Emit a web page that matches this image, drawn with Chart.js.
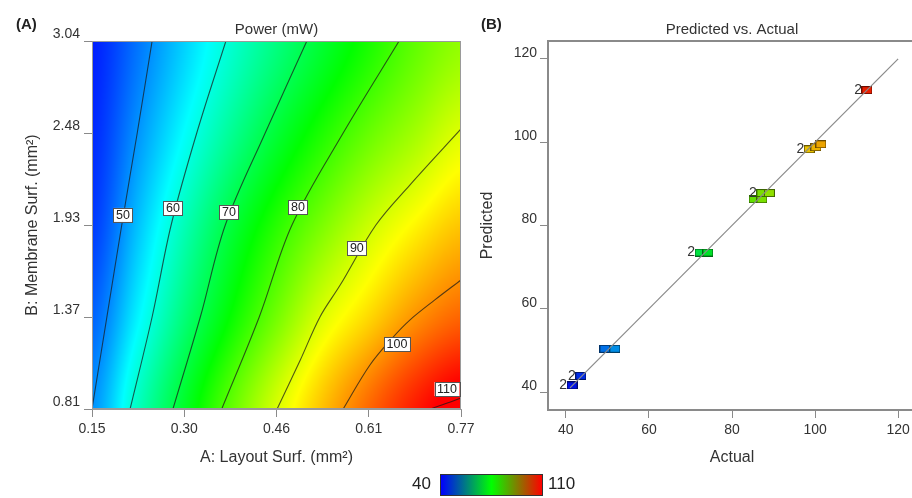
<!DOCTYPE html>
<html>
<head>
<meta charset="utf-8">
<script src="https://cdn.jsdelivr.net/npm/chart.js@4.4.1/dist/chart.umd.min.js"></script>
<style>
html,body{margin:0;padding:0;background:#fff;}
body{width:912px;height:498px;overflow:hidden;position:relative;font-family:"Liberation Sans",Arial,sans-serif;}
.panel{position:absolute;top:16px;font-weight:bold;font-size:15px;line-height:16px;color:#222;}
#cA{position:absolute;left:0;top:0;}
#cB{position:absolute;left:470px;top:0;}
#cbar{position:absolute;left:440px;top:474px;width:101px;height:20px;border:1px solid #333;background:linear-gradient(to right,#0000ff,#00ff00,#ff0000);}
.cblab{position:absolute;top:474px;font-size:17px;line-height:20px;color:#222;}
</style>
</head>
<body>
<canvas id="cA" width="480" height="498"></canvas>
<canvas id="cB" width="460" height="498"></canvas>
<div class="panel" style="left:16px">(A)</div>
<div class="panel" style="left:481px">(B)</div>
<div class="cblab" style="left:412px">40</div>
<div id="cbar"></div>
<div class="cblab" style="left:548px">110</div>
<script>
// ====== DATA : panel A (response surface) ======
const A_TICKS = [0.15, 0.305, 0.46, 0.615, 0.77];
const A_TICK_LABELS = ['0.15','0.30','0.46','0.61','0.77'];
const B_TICKS = [0.81, 1.3675, 1.925, 2.4825, 3.04];
const B_TICK_LABELS = ['0.81','1.37','1.93','2.48','3.04'];

// power at grid nodes (columns = A, rows = B)
const GRID_A = [0.15, 0.2275, 0.305, 0.3825, 0.46, 0.5375, 0.615, 0.6925, 0.77];
const GRID_B = [0.81, 1.3675, 1.925, 2.4825, 3.04];
const POWER_B081 = [50.0, 61.9, 72.2, 81.5, 89.8, 96.8, 102.9, 108.2, 112.0];
const POWER_B137 = [46.7, 56.9, 66.7, 75.2, 82.9, 90.2, 95.1, 99.9, 103.1];
const POWER_B193 = [43.9, 53.3, 62.4, 70.7, 77.6, 83.5, 88.8, 93.0, 96.4];
const POWER_B248 = [42.7, 50.2, 57.6, 64.7, 71.3, 77.0, 82.0, 86.1, 90.2];
const POWER_B304 = [42.0, 48.0, 54.3, 60.5, 66.2, 71.6, 76.6, 81.5, 85.0];
const POWER_ROWS = [POWER_B081, POWER_B137, POWER_B193, POWER_B248, POWER_B304];

// contour lines
const LEVELS = [50, 60, 70, 80, 90, 100, 110];
const C50_A = [0.150, 0.175, 0.200, 0.226, 0.251];
const C50_B = [0.81, 1.3675, 1.925, 2.4825, 3.04];
const C60_A = [0.214, 0.251, 0.283, 0.326, 0.375];
const C60_B = [0.81, 1.3675, 1.925, 2.4825, 3.04];
const C70_A = [0.286, 0.332, 0.374, 0.441, 0.511];
const C70_B = [0.81, 1.3675, 1.925, 2.4825, 3.04];
const C80_A = [0.368, 0.431, 0.486, 0.572, 0.666];
const C80_B = [0.81, 1.3675, 1.925, 2.4825, 3.04];
const C90_A = [0.461, 0.500, 0.533, 0.567, 0.627, 0.684, 0.770];
const C90_B = [0.81, 1.107, 1.368, 1.561, 1.925, 2.167, 2.507];
const C100_A = [0.572, 0.617, 0.656, 0.684, 0.726, 0.770];
const C100_B = [0.81, 1.077, 1.246, 1.349, 1.471, 1.592];
const C110_A = [0.718, 0.747, 0.770];
const C110_B = [0.81, 0.846, 0.877];
const CONTOURS_A = [C50_A, C60_A, C70_A, C80_A, C90_A, C100_A, C110_A];
const CONTOURS_B = [C50_B, C60_B, C70_B, C80_B, C90_B, C100_B, C110_B];
const LABEL_A = [0.202, 0.286, 0.380, 0.496, 0.595, 0.6625, 0.7465];
const LABEL_B = [1.986, 2.028, 2.004, 2.034, 1.786, 1.201, 0.931];

// ====== DATA : panel B (predicted vs actual) ======
const ACTUAL    = [112.5, 98.6, 100.2, 101.4, 85.3, 87.2, 87.2, 89.0, 72.3, 74.2, 49.4, 51.8, 43.6, 41.5];
const PREDICTED = [112.5, 98.3,  98.8,  99.5, 86.3, 86.3, 87.8, 87.8, 73.5, 73.5, 50.4, 50.4, 43.9, 41.6];
const RUNS      = [2, 2, 1, 1, 1, 1, 2, 1, 2, 1, 1, 1, 2, 2];
const PV_TICKS = [40, 60, 80, 100, 120];
const FIT_LINE = [41, 120];

// ====== UTILS ======
const FONT = '"Liberation Sans", Arial, sans-serif';
const JET = [[0,0,255],[0,255,255],[0,255,0],[255,255,0],[255,0,0]];
function jet(v, lo, hi){
  let t = (v-lo)/(hi-lo); t = Math.max(0, Math.min(1, t))*4;
  const i = Math.min(3, Math.floor(t)), f = t-i, a = JET[i], b = JET[i+1];
  return [a[0]+(b[0]-a[0])*f, a[1]+(b[1]-a[1])*f, a[2]+(b[2]-a[2])*f];
}
function cr(p0,p1,p2,p3,t){ return 0.5*((2*p1)+(-p0+p2)*t+(2*p0-5*p1+4*p2-p3)*t*t+(-p0+3*p1-3*p2+p3)*t*t*t); }
function sampleRow(row, u){
  const n=row.length; let i=Math.floor(u); if(i<0) i=0; if(i>n-2) i=n-2;
  const t=u-i, g=k=>row[Math.max(0,Math.min(n-1,k))];
  return cr(g(i-1),g(i),g(i+1),g(i+2),t);
}
function fieldAt(a, b){
  const u=(a-GRID_A[0])/(GRID_A[1]-GRID_A[0]);
  const w=(b-GRID_B[0])/(GRID_B[1]-GRID_B[0]);
  return sampleRow(POWER_ROWS.map(r=>sampleRow(r,u)), w);
}
const rectCache = {};
function rectImg(color){
  if(rectCache[color]) return rectCache[color];
  const c=document.createElement('canvas'); c.width=11; c.height=8;
  const g=c.getContext('2d'); g.fillStyle=color; g.fillRect(0,0,11,8);
  g.strokeStyle='rgba(0,0,0,0.55)'; g.lineWidth=1; g.strokeRect(0.5,0.5,10,7);
  return rectCache[color]=c;
}
function pointColor(v){ const c=jet(v,40,115); return `rgb(${Math.round(c[0]*0.92)},${Math.round(c[1]*0.88)},${Math.round(c[2]*0.9)})`; }

// ====== PLUGINS ======
const heatPlugin = {
  id:'heat',
  beforeDatasetsDraw(chart){
    const {ctx, chartArea:ca, scales:{x,y}} = chart;
    const L=Math.round(ca.left), T=Math.round(ca.top);
    const w=Math.round(ca.right)-L, h=Math.round(ca.bottom)-T;
    const img=ctx.createImageData(w,h);
    for(let j=0;j<h;j++){
      const b=y.getValueForPixel(T+j+0.5);
      for(let i=0;i<w;i++){
        const c=jet(fieldAt(x.getValueForPixel(L+i+0.5), b), 40, 110);
        const k=(j*w+i)*4;
        img.data[k]=c[0]; img.data[k+1]=c[1]; img.data[k+2]=c[2]; img.data[k+3]=255;
      }
    }
    ctx.putImageData(img, L, T);
  }
};
const frameA = {
  id:'frameA',
  afterDatasetsDraw(chart){
    const {ctx, chartArea:ca} = chart;
    ctx.save(); ctx.strokeStyle='#9a9a9a'; ctx.lineWidth=1;
    ctx.strokeRect(Math.round(ca.left)+0.5, Math.round(ca.top)+0.5, Math.round(ca.right-ca.left)-1, Math.round(ca.bottom-ca.top)-1);
    ctx.restore();
  }
};
const contourLabels = {
  id:'contourLabels',
  afterDraw(chart){
    const {ctx, scales:{x,y}} = chart;
    ctx.save(); ctx.font='12.5px '+FONT; ctx.textAlign='center'; ctx.textBaseline='middle';
    LEVELS.forEach((lv,i)=>{
      const px=x.getPixelForValue(LABEL_A[i]), py=y.getPixelForValue(LABEL_B[i]);
      const t=String(lv), tw=ctx.measureText(t).width+5, th=14;
      ctx.fillStyle='#fff'; ctx.fillRect(px-tw/2, py-th/2, tw, th);
      ctx.strokeStyle='#555'; ctx.lineWidth=1; ctx.strokeRect(Math.round(px-tw/2)+0.5, Math.round(py-th/2)+0.5, Math.round(tw), th);
      ctx.fillStyle='#222'; ctx.fillText(t, px, py+0.5);
    });
    ctx.restore();
  }
};
const frameB = {
  id:'frameB',
  afterDraw(chart){
    const {ctx, chartArea:ca} = chart;
    ctx.save(); ctx.strokeStyle='#8a8a8a'; ctx.lineWidth=2;
    ctx.beginPath(); ctx.moveTo(ca.left-1, ca.top); ctx.lineTo(ca.right, ca.top); ctx.stroke();
    ctx.restore();
  }
};
const runLabels = {
  id:'runLabels',
  afterDatasetsDraw(chart){
    const {ctx} = chart, meta=chart.getDatasetMeta(1);
    ctx.save(); ctx.font='14px '+FONT; ctx.fillStyle='#333'; ctx.textAlign='right'; ctx.textBaseline='middle';
    meta.data.forEach((pt,i)=>{ if(RUNS[i]>1) ctx.fillText(String(RUNS[i]), pt.x-5, pt.y); });
    ctx.restore();
  }
};

// ====== CHART A ======
new Chart(document.getElementById('cA'), {
  type:'scatter',
  data:{ datasets: LEVELS.map((lv,k)=>({
    label:String(lv),
    data: CONTOURS_A[k].map((a,i)=>({x:a, y:CONTOURS_B[k][i]})),
    showLine:true, pointRadius:0, borderColor:'rgba(25,25,25,0.72)', borderWidth:1.1, tension:0.35, fill:false
  }))},
  options:{
    responsive:false, animation:false, events:[],
    layout:{padding:{left:0,right:19,top:0,bottom:0}},
    plugins:{
      legend:{display:false}, tooltip:{enabled:false},
      title:{display:true, text:'Power (mW)', fullSize:false, color:'#333', font:{size:15,family:FONT,weight:'normal'}, padding:{top:21,bottom:2}}
    },
    scales:{
      x:{type:'linear', min:0.15, max:0.77,
        afterBuildTicks:s=>{ s.ticks=A_TICKS.map(v=>({value:v})); },
        afterFit:s=>{ s.height=89; s.paddingLeft=0; s.paddingRight=0; },
        ticks:{callback:(v,i)=>A_TICK_LABELS[i], color:'#333', font:{size:14,family:FONT}, padding:4, maxRotation:0, autoSkip:false},
        grid:{drawOnChartArea:false, tickLength:8, tickColor:'#8a8a8a'}, border:{color:'#9a9a9a'},
        title:{display:true, text:'A: Layout Surf. (mm²)', color:'#333', font:{size:16,family:FONT}, padding:{bottom:31}}
      },
      y:{type:'linear', min:0.81, max:3.04,
        afterBuildTicks:s=>{ s.ticks=B_TICKS.map(v=>({value:v})); },
        afterFit:s=>{ s.width=92; s.paddingTop=0; s.paddingBottom=0; },
        ticks:{callback:(v,i)=>B_TICK_LABELS[i], color:'#333', font:{size:14,family:FONT}, padding:4, labelOffset:-7, autoSkip:false},
        grid:{drawOnChartArea:false, tickLength:8, tickColor:'#8a8a8a'}, border:{color:'#9a9a9a'},
        title:{display:true, text:'B: Membrane Surf. (mm²)', color:'#333', font:{size:16,family:FONT}, padding:{top:23}}
      }
    }
  },
  plugins:[heatPlugin, frameA, contourLabels]
});

// ====== CHART B ======
new Chart(document.getElementById('cB'), {
  type:'scatter',
  data:{ datasets:[
    { label:'fit', data: FIT_LINE.map(v=>({x:v, y:v})), showLine:true, pointRadius:0, borderColor:'#8a8a8a', borderWidth:1.2 },
    { label:'runs', data: ACTUAL.map((a,i)=>({x:a, y:PREDICTED[i]})), pointRadius:5,
      pointStyle: c=> rectImg(pointColor(ACTUAL[c.dataIndex!=null?c.dataIndex:0])) }
  ]},
  options:{
    responsive:false, animation:false, events:[],
    layout:{padding:{left:0,right:14,top:0,bottom:0}},
    plugins:{
      legend:{display:false}, tooltip:{enabled:false},
      title:{display:true, text:'Predicted vs. Actual', fullSize:false, color:'#333', font:{size:15,family:FONT,weight:'normal'}, padding:{top:21,bottom:2}}
    },
    scales:{
      x:{type:'linear', min:35.7, max:124.3,
        afterBuildTicks:s=>{ s.ticks=PV_TICKS.map(v=>({value:v})); },
        afterFit:s=>{ s.height=88; s.paddingLeft=0; s.paddingRight=0; },
        ticks:{color:'#333', font:{size:14,family:FONT}, padding:4, maxRotation:0, autoSkip:false},
        grid:{drawOnChartArea:false, tickLength:8, tickColor:'#8a8a8a'}, border:{color:'#8a8a8a', width:2},
        title:{display:true, text:'Actual', color:'#333', font:{size:16,family:FONT}, padding:{bottom:31}}
      },
      y:{type:'linear', min:35.7, max:124.3,
        afterBuildTicks:s=>{ s.ticks=PV_TICKS.map(v=>({value:v})); },
        afterFit:s=>{ s.width=78; s.paddingTop=0; s.paddingBottom=0; },
        ticks:{color:'#333', font:{size:14,family:FONT}, padding:3, labelOffset:-6, autoSkip:false},
        grid:{drawOnChartArea:false, tickLength:8, tickColor:'#8a8a8a'}, border:{color:'#8a8a8a', width:2},
        title:{display:true, text:'Predicted', color:'#333', font:{size:16,family:FONT}, padding:{top:8}}
      }
    }
  },
  plugins:[frameB, runLabels]
});
</script>
</body>
</html>
